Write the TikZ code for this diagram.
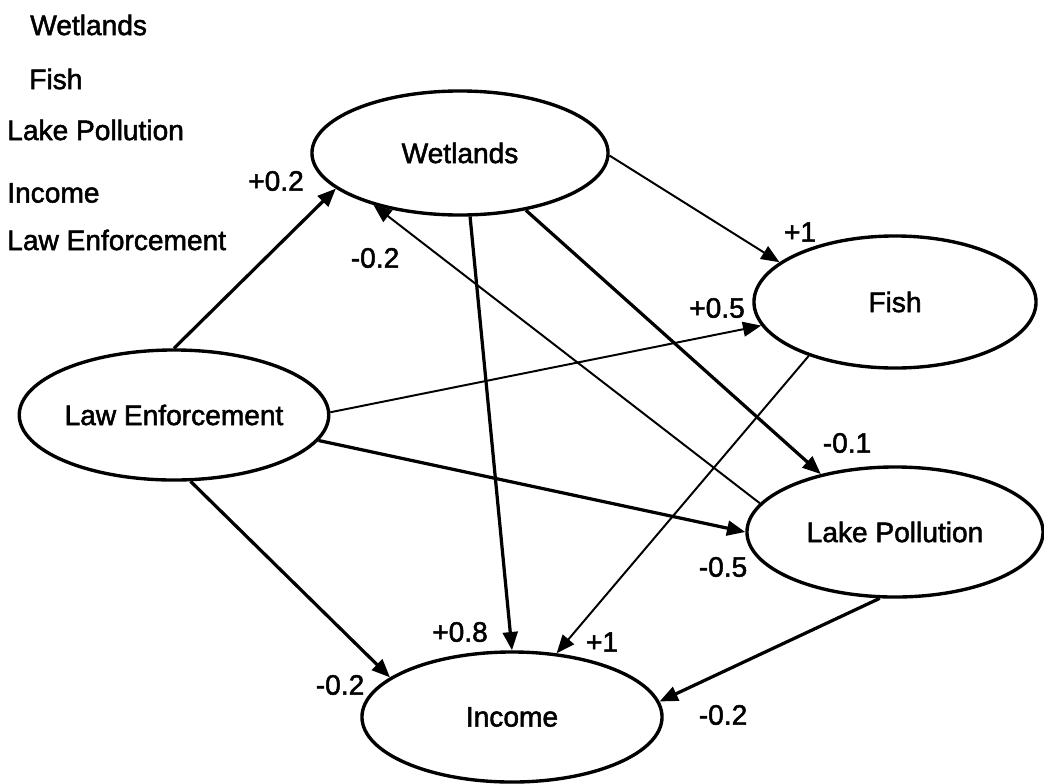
\documentclass[tikz,border=0pt]{standalone}
\usepackage{fontspec}
\setmainfont{Liberation Sans}
\newfontfamily\diagfont{Liberation Sans}[FakeBold=1.8]
\usetikzlibrary{arrows.meta,positioning,shapes.geometric}

\begin{document}
\begin{tikzpicture}[
    x=0.025cm, y=-0.025cm,
    every node/.style={font=\diagfont\fontsize{20}{23}\selectfont},
    factor/.style={draw, ellipse, line width=2.4pt, minimum width=7.4cm, minimum height=3.25cm, inner sep=0pt},
    legend/.style={anchor=west, inner sep=0pt},
    coef/.style={inner sep=0pt},
    arrow/.style={-{Triangle[length=13pt, width=10.5pt]}, line width=2.3pt},
    thinarrow/.style={-{Triangle[length=13pt, width=10.5pt]}, line width=1.4pt},
]
\useasboundingbox (0,0) rectangle (1044,783);

% Legend top left
\node[legend] (lgwet) at (30,25) {Wetlands};
\node[legend] (lgfish) at (29,79) {Fish};
\node[legend] (lglake) at (7,130) {Lake Pollution};
\node[legend] (lginc) at (7,193) {Income};
\node[legend] (lglaw) at (7,240) {Law Enforcement};

% Factors
\node[factor, minimum height=3.1cm] (wet) at (460,153) {Wetlands};
\node[factor, minimum width=7.05cm, minimum height=3.3cm] (fish) at (895,302) {Fish};
\node[factor] (law) at (174,415) {Law Enforcement};
\node[factor] (lake) at (895,532) {Lake Pollution};
\node[factor, minimum width=7.5cm] (inc) at (512,717) {Income};

% Paths
\draw[arrow] (law.north) -- (wet.196);
\draw[thinarrow] (wet.359) -- (fish.161);
\draw[thinarrow] (lake.168) -- (wet.211);
\draw[arrow] (wet.319) -- (lake.142);
\draw[arrow] (wet.279) -- (inc.north);
\draw[thinarrow] (fish.212) -- (inc.55);
\draw[thinarrow] (law.1) -- (fish.190);
\draw[arrow] (law.350) -- (lake.west);
\draw[arrow] (law.284) -- (inc.162);
\draw[arrow] (lake.257) -- (inc.6);

% Coefficients
\node[coef] (cwet) at (276,181) {+0.2};
\node[coef] (clakewet) at (375,258) {-0.2};
\node[coef] (cfish) at (800,232) {+1};
\node[coef] (clawfish) at (717,308) {+0.5};
\node[coef] (cwetlake) at (847,443) {-0.1};
\node[coef] (clawlake) at (723,567) {-0.5};
\node[coef] (cwetinc) at (460,632) {+0.8};
\node[coef] (cfishinc) at (602,642) {+1};
\node[coef] (clawinc) at (340,685) {-0.2};
\node[coef] (clakeinc) at (723,715) {-0.2};

\end{tikzpicture}
\end{document}
